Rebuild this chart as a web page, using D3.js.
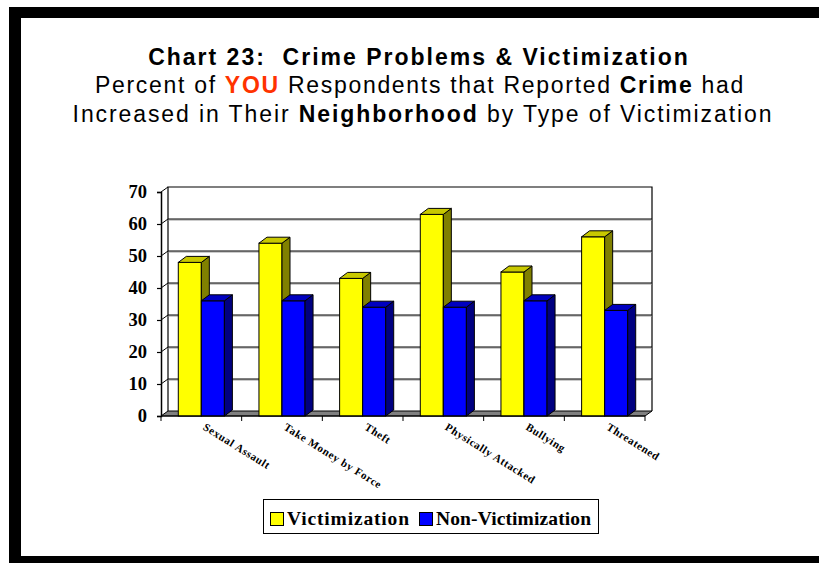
<!DOCTYPE html>
<html>
<head>
<meta charset="utf-8">
<script src="https://cdn.jsdelivr.net/npm/d3@7"></script>
<style>
  html, body { margin: 0; padding: 0; background: #fff; overflow: hidden; }
  svg { display: block; }
</style>
</head>
<body>
<svg id="chart" width="819" height="563"></svg>
<script>
// Survey results: percent reporting crime increased, by type of victimization
const categories = ["Sexual Assault", "Take Money by Force", "Theft", "Physically Attacked", "Bullying", "Threatened"];
const seriesNames = ["Victimization", "Non-Victimization"];
const victimization = [48, 54, 43, 63, 45, 56];
const nonVictimization = [36, 36, 34, 34, 36, 33];
const yTicks = [0, 10, 20, 30, 40, 50, 60, 70];

const seriesColors = {
  "Victimization": { front: "#FFFF00", side: "#808000", top: "#C8C800" },
  "Non-Victimization": { front: "#0000FF", side: "#000080", top: "#0000C0" }
};

const svg = d3.select("#chart");

// Outer frame: thick black band on the top and left, thinner along the bottom
svg.append("rect").attr("x", 9).attr("y", 7).attr("width", 810).attr("height", 11).attr("fill", "#000");
svg.append("rect").attr("x", 9).attr("y", 7).attr("width", 12).attr("height", 556).attr("fill", "#000");
svg.append("rect").attr("x", 9).attr("y", 556).attr("width", 810).attr("height", 7).attr("fill", "#000");

// Titles
const titleFont = "'Liberation Sans', Arial, Helvetica, sans-serif";
svg.append("text").attr("x", 419).attr("y", 65).attr("text-anchor", "middle")
  .attr("font-family", titleFont).attr("font-size", 23).attr("font-weight", "bold")
  .attr("letter-spacing", 2.0).attr("fill", "#000").attr("xml:space", "preserve")
  .text("Chart 23:  Crime Problems & Victimization");

const t2 = svg.append("text").attr("x", 420).attr("y", 93).attr("text-anchor", "middle")
  .attr("font-family", titleFont).attr("font-size", 23).attr("letter-spacing", 1.7).attr("fill", "#000");
t2.append("tspan").text("Percent of ");
t2.append("tspan").attr("font-weight", "bold").attr("fill", "#FF3300").text("YOU");
t2.append("tspan").text(" Respondents that Reported ");
t2.append("tspan").attr("font-weight", "bold").text("Crime");
t2.append("tspan").text(" had");

const t3 = svg.append("text").attr("x", 423).attr("y", 122).attr("text-anchor", "middle")
  .attr("font-family", titleFont).attr("font-size", 23).attr("letter-spacing", 1.9).attr("fill", "#000");
t3.append("tspan").text("Increased in Their ");
t3.append("tspan").attr("font-weight", "bold").text("Neighborhood");
t3.append("tspan").text(" by Type of Victimization");

// 3D geometry
const wallDX = 7, wallDY = -5;     // depth of walls / floor
const barDX = 8, barDY = -6;       // depth of each bar
const x0 = d3.scaleBand().domain(categories).range([161, 645]).padding(0);
const x1 = d3.scaleBand().domain(seriesNames).range([0, x0.bandwidth()]).paddingInner(0).paddingOuter(0.75);
const y = d3.scaleLinear().domain([0, 70]).range([416, 192]);

const plotLeft = x0.range()[0], plotRight = x0.range()[1];

// Back wall
const g = svg.append("g");
g.append("path")
  .attr("d", `M${plotLeft + wallDX},${y(0) + wallDY} L${plotLeft + wallDX},${y(70) + wallDY} L${plotRight + wallDX},${y(70) + wallDY} L${plotRight + wallDX},${y(0) + wallDY}`)
  .attr("fill", "#fff").attr("stroke", "#000").attr("stroke-width", 1.2);

// Gridlines on back and left walls
yTicks.filter(d => d > 0 && d < 70).forEach(d => {
  const yy = y(d);
  g.append("line").attr("x1", plotLeft + wallDX).attr("x2", plotRight + wallDX)
    .attr("y1", yy + wallDY + 1).attr("y2", yy + wallDY + 1).attr("stroke", "#9a9a9a").attr("stroke-width", 1);
  g.append("line").attr("x1", plotLeft + wallDX).attr("x2", plotRight + wallDX)
    .attr("y1", yy + wallDY).attr("y2", yy + wallDY).attr("stroke", "#000").attr("stroke-width", 1);
  g.append("line").attr("x1", plotLeft).attr("x2", plotLeft + wallDX)
    .attr("y1", yy).attr("y2", yy + wallDY).attr("stroke", "#000").attr("stroke-width", 1);
});
g.append("line").attr("x1", plotLeft).attr("x2", plotLeft + wallDX)
  .attr("y1", y(70)).attr("y2", y(70) + wallDY).attr("stroke", "#000").attr("stroke-width", 1);

// Floor slab
g.append("path")
  .attr("d", `M${plotLeft},${y(0)} L${plotLeft + wallDX},${y(0) + wallDY} L${plotRight + wallDX},${y(0) + wallDY} L${plotRight},${y(0)} Z`)
  .attr("fill", "#808080").attr("stroke", "#000").attr("stroke-width", 1);

// Bars
const data = categories.map((c, i) => ({ cat: c, values: [
  { key: "Victimization", value: victimization[i] },
  { key: "Non-Victimization", value: nonVictimization[i] }
]}));

const barW = x1.bandwidth();
data.forEach(d => {
  d.values.forEach(v => {
    const bx = x0(d.cat) + x1(v.key);
    const by = y(v.value);
    const base = y(0);
    const col = seriesColors[v.key];
    g.append("rect").attr("x", bx).attr("y", by).attr("width", barW).attr("height", base - by)
      .attr("fill", col.front).attr("stroke", "#000").attr("stroke-width", 1);
    g.append("path")
      .attr("d", `M${bx + barW},${by} L${bx + barW + barDX},${by + barDY} L${bx + barW + barDX},${base + barDY} L${bx + barW},${base} Z`)
      .attr("fill", col.side).attr("stroke", "#000").attr("stroke-width", 1).attr("stroke-linejoin", "round");
    g.append("path")
      .attr("d", `M${bx},${by} L${bx + barDX},${by + barDY} L${bx + barW + barDX},${by + barDY} L${bx + barW},${by} Z`)
      .attr("fill", col.top).attr("stroke", "#000").attr("stroke-width", 1).attr("stroke-linejoin", "round");
  });
});

// Y axis
const yAxis = d3.axisLeft(y).tickValues(yTicks).tickSize(4).tickPadding(10).tickFormat(d3.format("d"));
const ya = svg.append("g").attr("transform", `translate(${plotLeft},0)`).call(yAxis);
ya.select(".domain").attr("stroke", "#000").attr("stroke-width", 1.5);
ya.selectAll(".tick line").attr("stroke", "#000").attr("stroke-width", 1.2);
ya.selectAll(".tick text").attr("font-family", "'Liberation Serif', 'Times New Roman', serif")
  .attr("font-weight", "bold").attr("font-size", 18.5).attr("fill", "#000");

// X axis: ticks at category boundaries
const xg = svg.append("g");
const bounds = categories.map(c => x0(c)).concat([plotRight]);
xg.selectAll("line.tk").data(bounds).join("line").attr("class", "tk")
  .attr("x1", d => d).attr("x2", d => d).attr("y1", y(0)).attr("y2", y(0) + 5)
  .attr("stroke", "#000").attr("stroke-width", 1);
xg.append("line").attr("x1", plotLeft).attr("x2", plotRight).attr("y1", y(0)).attr("y2", y(0))
  .attr("stroke", "#000").attr("stroke-width", 1.2);

xg.selectAll("text.cat").data(categories).join("text").attr("class", "cat")
  .attr("transform", d => `translate(${x0(d) + x0.bandwidth() / 2 + 1},${y(0) + 13}) rotate(32)`)
  .attr("font-family", "'Liberation Serif', 'Times New Roman', serif").attr("font-weight", "bold")
  .attr("font-size", 11).attr("letter-spacing", 0.6).attr("fill", "#000")
  .text(d => d);

// Legend
const lg = svg.append("g");
lg.append("rect").attr("x", 263.5).attr("y", 499.5).attr("width", 335).attr("height", 34)
  .attr("fill", "#fff").attr("stroke", "#000").attr("stroke-width", 1);
const legendItems = [
  { key: "Victimization", x: 270, len: 122 },
  { key: "Non-Victimization", x: 419, len: 155 }
];
legendItems.forEach(it => {
  lg.append("rect").attr("x", it.x + 0.5).attr("y", 512.5).attr("width", 13).attr("height", 13)
    .attr("fill", seriesColors[it.key].front).attr("stroke", "#000").attr("stroke-width", 1);
  lg.append("text").attr("x", it.x + 17).attr("y", 524.5)
    .attr("font-family", "'Liberation Serif', 'Times New Roman', serif").attr("font-weight", "bold")
    .attr("font-size", 19.5).attr("textLength", it.len).attr("lengthAdjust", "spacing")
    .attr("fill", "#000").text(it.key);
});
</script>
</body>
</html>
